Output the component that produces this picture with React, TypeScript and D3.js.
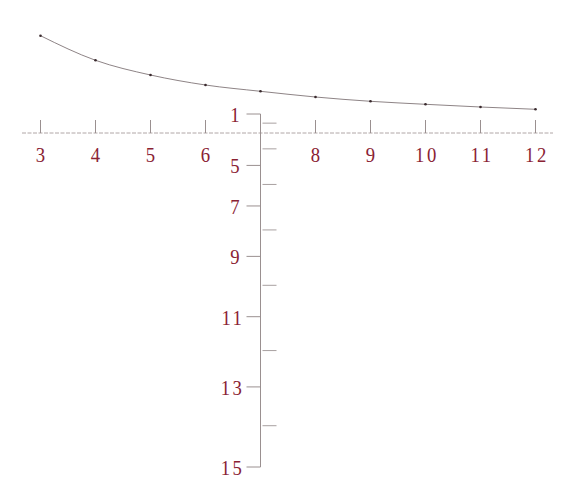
import { useEffect, useRef } from "react";
import * as d3 from "d3";

// curve: x = 3..12, height above the horizontal axis (arbitrary units)
const xValues = [3, 4, 5, 6, 7, 8, 9, 10, 11, 12];
const curveValues = [0.973, 0.727, 0.58, 0.48, 0.417, 0.36, 0.317, 0.287, 0.26, 0.237];

const xTickValues = [3, 4, 5, 6, 8, 9, 10, 11, 12];
const yLabelTicks = [1, 5, 7, 9, 11, 13, 15];
const yMinorTicks = [2, 4, 6, 8, 10, 12, 14];

const W = 563;
const H = 486;
const OFF = 2.2; // depth axis is quadratic in (v + OFF)
const LABEL = "#8a2233";
const FONT = "'Liberation Serif', 'DejaVu Serif', serif";

export default function App() {
  const ref = useRef<SVGSVGElement>(null);

  useEffect(() => {
    if (!ref.current) return;
    const svg = d3.select(ref.current);
    svg.selectAll("*").remove();

    const x = d3.scaleLinear().domain([3, 12]).range([40.5, 535.5]);
    const yc = d3.scaleLinear().domain([0, 1]).range([133, 33]);
    const depthPow = d3.scalePow().exponent(2).domain([1 + OFF, 15 + OFF]).range([114, 467]);
    const yd = (v: number) => depthPow(v + OFF);
    const axisY = yc(0);
    const axisX = x(7);

    svg.append("rect").attr("width", W).attr("height", H).attr("fill", "#fff");

    // horizontal axis
    svg.append("line")
      .attr("x1", 22).attr("x2", 553).attr("y1", axisY).attr("y2", axisY)
      .attr("stroke", "#b0a6a6").attr("stroke-width", 1).attr("stroke-dasharray", "4 1.5");

    const xt = svg.append("g");
    xTickValues.forEach((v) => {
      xt.append("line")
        .attr("x1", x(v)).attr("x2", x(v)).attr("y1", axisY - 13).attr("y2", axisY)
        .attr("stroke", "#9a9090").attr("stroke-width", 1);
      xt.append("text")
        .attr("transform", `translate(${x(v) + (v >= 10 ? 1.5 : 0)},${axisY + 29}) scale(0.85,1)`)
        .attr("text-anchor", "middle")
        .attr("font-family", FONT).attr("font-size", 22)
        .attr("letter-spacing", v >= 10 ? 3 : 0)
        .attr("fill", LABEL)
        .text(v);
    });

    // vertical (depth) axis
    svg.append("line")
      .attr("x1", axisX).attr("x2", axisX).attr("y1", yd(1)).attr("y2", yd(15))
      .attr("stroke", "#9a9090").attr("stroke-width", 1);

    yLabelTicks.forEach((v) => {
      svg.append("line")
        .attr("x1", axisX - 14).attr("x2", axisX).attr("y1", yd(v)).attr("y2", yd(v))
        .attr("stroke", "#9a9090").attr("stroke-width", 1);
      svg.append("text")
        .attr("transform", `translate(${v >= 10 ? axisX - 16 : axisX - 21},${yd(v) + 8}) scale(0.85,1)`)
        .attr("text-anchor", "end")
        .attr("font-family", FONT).attr("font-size", 22)
        .attr("letter-spacing", v >= 10 ? 3 : 0)
        .attr("fill", LABEL)
        .text(v);
    });

    yMinorTicks.forEach((v) => {
      svg.append("line")
        .attr("x1", axisX + 2).attr("x2", axisX + 16).attr("y1", yd(v)).attr("y2", yd(v))
        .attr("stroke", "#a8a0a0").attr("stroke-width", 1);
    });

    // curve
    const pts = xValues.map((v, i) => [x(v), yc(curveValues[i])] as [number, number]);
    svg.append("path")
      .attr("d", d3.line().curve(d3.curveMonotoneX)(pts))
      .attr("fill", "none").attr("stroke", "#8e8486").attr("stroke-width", 1);
    svg.selectAll(".pt").data(pts).join("circle")
      .attr("cx", (d) => d[0]).attr("cy", (d) => d[1]).attr("r", 1.3)
      .attr("fill", "#3a2a2e");
  }, []);

  return (
    <svg
      ref={ref}
      width={W}
      height={H}
      style={{ position: "absolute", left: 0, top: 0, display: "block" }}
    />
  );
}
